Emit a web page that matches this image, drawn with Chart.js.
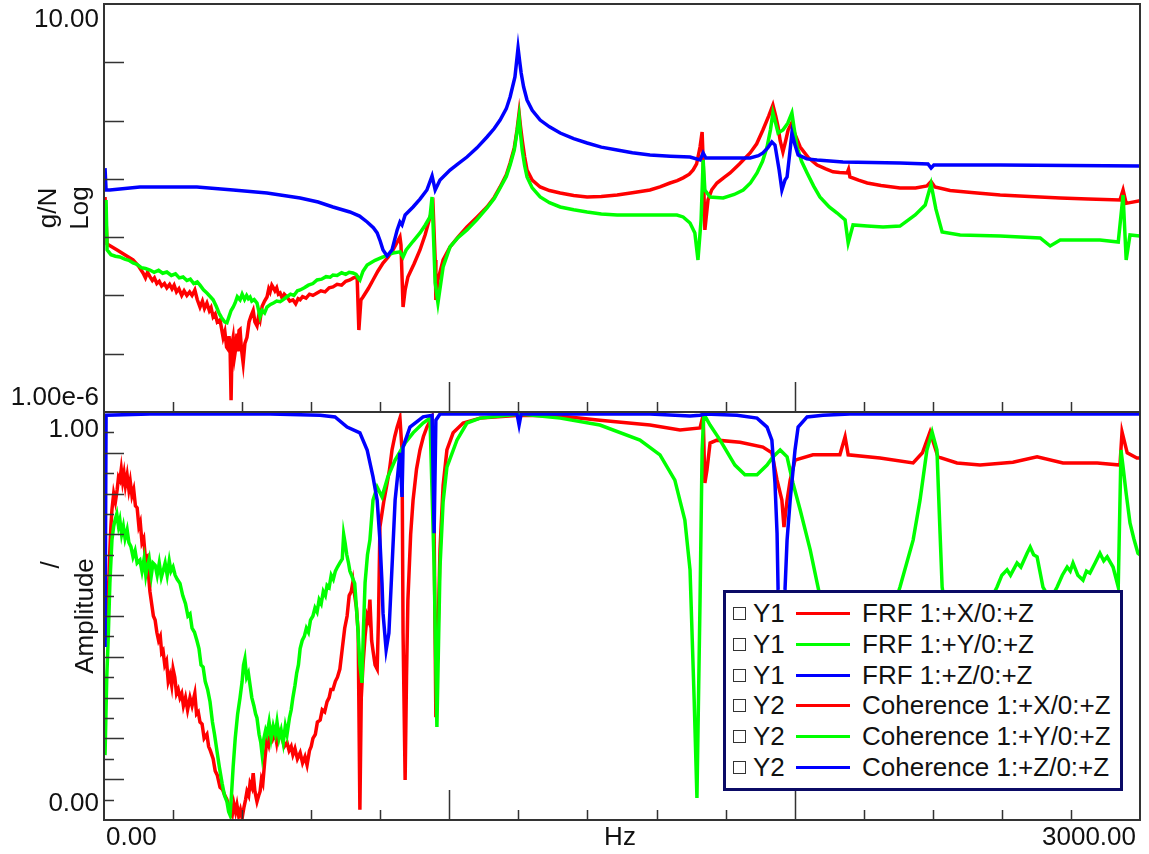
<!DOCTYPE html>
<html>
<head>
<meta charset="utf-8">
<script src="https://cdn.jsdelivr.net/npm/chart.js@4.4.0/dist/chart.umd.min.js"></script>
<style>
  html, body { margin: 0; padding: 0; background: #fff; }
  #wrap { position: relative; width: 1149px; height: 854px; }
  #legend {
    position: absolute; left: 723px; top: 590px; width: 394px; height: 195px;
    border: 3px solid #0b0b66; background: #fff;
    font-family: "Liberation Sans", Arial, sans-serif; font-size: 26px; color: #111;
  }
  .row { position: absolute; left: 0; height: 31px; width: 390px; white-space: nowrap; }
  .chk { position: absolute; left: 7px; top: 9px; width: 11px; height: 11px; border: 1.5px solid #333; }
  .ax { position: absolute; left: 27px; top: 0; line-height: 31px; }
  .ln { position: absolute; left: 70px; top: 14px; width: 54px; height: 3px; }
  .lb { position: absolute; left: 136px; top: 0; line-height: 31px; }
</style>
</head>
<body>
<div id="wrap">
  <canvas id="chart" width="1149" height="854"></canvas>
  <div id="legend"></div>
</div>
<script>
// frequency (Hz), value pairs
const frfX = [[3,4.89e-3],[9,7.6e-4],[38,6.03e-4],[60,5.0e-4],[84,4.06e-4],[100,3.2e-4],[113,2.43e-4],[120,2.0e-4],[126,2.5e-4],[133,2.1e-4],[140,1.8e-4],[146,2.0e-4],[153,1.6e-4],[160,1.75e-4],[167,1.45e-4],[175,1.6e-4],[182,1.35e-4],[190,1.55e-4],[197,1.3e-4],[203,1.5e-4],[210,1.15e-4],[217,1.3e-4],[225,1.0e-4],[232,1.2e-4],[240,1.0e-4],[248,1.15e-4],[255,1.0e-4],[263,1.24e-4],[270,8.5e-5],[278,6.3e-5],[285,8.0e-5],[291,6.0e-5],[298,7.4e-5],[305,5.5e-5],[310,6.2e-5],[316,4.3e-5],[322,4.8e-5],[328,3.5e-5],[336,3.8e-5],[340,2.8e-5],[345,1.9e-5],[350,2.4e-5],[355,1.3e-5],[359,1.2e-5],[362,2.0e-5],[365,1.35e-5],[368,1.6e-6],[371,1.5e-5],[374,1.9e-5],[378,9e-6],[382,1.3e-5],[385,2.2e-5],[388,1.1e-5],[391,2.5e-5],[394,2.6e-5],[398,1.2e-5],[403,6.9e-6],[408,1.5e-5],[414,1.9e-5],[420,3.5e-5],[426,4.5e-5],[432,5.5e-5],[437,3.5e-5],[443,3.0e-5],[448,4.5e-5],[452,3.8e-5],[458,6.5e-5],[465,8.0e-5],[472,9.4e-5],[477,1.3e-4],[481,1.15e-4],[486,1.5e-4],[489,1.4e-4],[495,1.2e-4],[500,1.35e-4],[505,1.05e-4],[510,1.1e-4],[516,9.0e-5],[522,1.05e-4],[530,9.4e-5],[538,8.0e-5],[547,8.4e-5],[555,7.2e-5],[562,8.8e-5],[568,8.4e-5],[575,9.5e-5],[585,9.0e-5],[595,1.05e-4],[605,1.0e-4],[617,1.1e-4],[628,1.2e-4],[640,1.15e-4],[652,1.35e-4],[663,1.4e-4],[675,1.55e-4],[688,1.5e-4],[700,1.75e-4],[712,1.84e-4],[722,2.0e-4],[733,2.07e-4],[738,2.55e-5],[744,8.36e-5],[750,9.4e-5],[765,1.3e-4],[779,1.84e-4],[793,2.6e-4],[808,3.6e-4],[822,4.5e-4],[837,6.03e-4],[857,1.01e-3],[860,7.34e-4],[866,6.34e-5],[872,1.24e-4],[880,2.07e-4],[898,3.5e-4],[915,6.03e-4],[930,1.1e-3],[944,2.22e-3],[953,3.29e-3],[959,4.06e-4],[961,8.36e-5],[967,1.84e-4],[982,4.06e-4],[1002,6.78e-4],[1025,1.0e-3],[1051,1.49e-3],[1080,2.2e-3],[1109,3.29e-3],[1130,4.8e-3],[1147,7.26e-3],[1165,0.0118],[1176,0.0187],[1188,0.034],[1196,0.0689],[1202,0.135],[1206,0.08],[1211,0.0464],[1218,0.024],[1225,0.0142],[1240,0.0095],[1263,7.26e-3],[1290,6.3e-3],[1321,5.73e-3],[1360,5.2e-3],[1399,4.89e-3],[1440,5.0e-3],[1486,5.29e-3],[1530,5.8e-3],[1581,6.44e-3],[1610,7.3e-3],[1639,8.49e-3],[1660,9.3e-3],[1677,0.0104],[1695,0.012],[1706,0.0142],[1716,0.018],[1726,0.0352],[1732,0.0637],[1735,0.0211],[1740,1.33e-3],[1749,4.34e-3],[1760,6.5e-3],[1775,8.49e-3],[1795,0.0105],[1813,0.0126],[1840,0.018],[1871,0.0278],[1890,0.04],[1908,0.0689],[1925,0.12],[1937,0.185],[1945,0.12],[1952,0.0776],[1958,0.045],[1966,0.0289],[1974,0.045],[1981,0.0689],[1992,0.093],[2000,0.06],[2016,0.0352],[2040,0.023],[2065,0.0173],[2090,0.0148],[2111,0.0132],[2130,0.0128],[2152,0.0126],[2156,0.0145],[2160,0.0108],[2185,0.0095],[2210,8.49e-3],[2250,7.7e-3],[2305,6.97e-3],[2350,7.0e-3],[2383,7.55e-3],[2395,9.0e-3],[2406,7.26e-3],[2450,6.3e-3],[2520,5.8e-3],[2595,5.29e-3],[2680,5.0e-3],[2769,4.7e-3],[2850,4.5e-3],[2942,4.34e-3],[2951,6.44e-3],[2960,3.8e-3],[3000,4.2e-3]];

const frfY = [[6,4.34e-3],[9,6.03e-4],[20,5.0e-4],[33,4.7e-4],[46,4.57e-4],[60,4.2e-4],[72,4.0e-4],[84,3.6e-4],[96,3.4e-4],[108,3.0e-4],[120,2.9e-4],[133,2.73e-4],[145,2.5e-4],[158,2.7e-4],[170,2.4e-4],[182,2.52e-4],[195,2.2e-4],[207,2.35e-4],[218,2.0e-4],[229,2.07e-4],[240,1.8e-4],[250,1.9e-4],[260,1.6e-4],[270,1.7e-4],[278,1.5e-4],[288,1.25e-4],[298,1.1e-4],[308,9.5e-5],[316,8.4e-5],[325,6.5e-5],[333,5.0e-5],[340,4.2e-5],[345,3.8e-5],[350,3.5e-5],[356,3.4e-5],[363,4.5e-5],[368,5.5e-5],[374,6.3e-5],[380,7.5e-5],[386,9.5e-5],[394,8.4e-5],[400,1.05e-4],[407,8.5e-5],[413,1.0e-4],[418,8.8e-5],[423,9.4e-5],[428,8.0e-5],[435,8.5e-5],[443,7.4e-5],[448,5.5e-5],[452,4.3e-5],[458,5.5e-5],[465,5.0e-5],[472,6.3e-5],[482,7.0e-5],[492,7.5e-5],[500,8.0e-5],[510,7.8e-5],[518,8.4e-5],[530,9.5e-5],[540,1.05e-4],[550,1.0e-4],[560,1.2e-4],[568,1.24e-4],[580,1.35e-4],[592,1.5e-4],[605,1.6e-4],[617,1.84e-4],[630,1.9e-4],[643,2.1e-4],[655,2.05e-4],[663,2.24e-4],[675,2.2e-4],[688,2.45e-4],[700,2.3e-4],[710,2.5e-4],[721,2.43e-4],[730,2.3e-4],[736,2.0e-4],[741,1.84e-4],[750,2.6e-4],[762,3.33e-4],[785,4.0e-4],[808,4.57e-4],[822,5.0e-4],[837,5.35e-4],[857,5.6e-4],[866,4.57e-4],[875,6.03e-4],[895,8.5e-4],[915,1.18e-3],[930,1.6e-3],[944,2.22e-3],[950,4.89e-3],[959,1.64e-4],[967,7.42e-5],[982,3.08e-4],[1002,6.78e-4],[1025,9.8e-4],[1051,1.33e-3],[1080,2.0e-3],[1109,3.16e-3],[1130,4.6e-3],[1147,6.97e-3],[1165,0.011],[1176,0.0173],[1188,0.031],[1196,0.0637],[1202,0.115],[1206,0.06],[1211,0.0313],[1218,0.017],[1225,0.0108],[1240,7.0e-3],[1263,4.89e-3],[1290,3.9e-3],[1321,3.29e-3],[1360,2.95e-3],[1399,2.7e-3],[1440,2.5e-3],[1486,2.4e-3],[1581,2.4e-3],[1659,2.4e-3],[1677,2.22e-3],[1697,1.75e-3],[1711,1.18e-3],[1720,4.06e-4],[1729,1.97e-3],[1735,0.0211],[1740,6.44e-3],[1755,4.89e-3],[1793,4.7e-3],[1825,5.4e-3],[1851,6.44e-3],[1872,8.5e-3],[1891,0.0126],[1907,0.02],[1920,0.0352],[1930,0.07],[1937,0.135],[1945,0.09],[1952,0.0612],[1966,0.0689],[1980,0.09],[1992,0.135],[1999,0.07],[2007,0.0352],[2020,0.02],[2036,0.0126],[2055,7.5e-3],[2073,4.89e-3],[2100,3.3e-3],[2123,2.59e-3],[2146,1.97e-3],[2155,7.94e-4],[2169,1.62e-3],[2210,1.55e-3],[2256,1.49e-3],[2305,1.55e-3],[2349,2.4e-3],[2378,3.56e-3],[2395,8.1e-3],[2409,3.02e-3],[2427,1.23e-3],[2479,1.09e-3],[2595,1.05e-3],[2711,9.7e-4],[2740,7.05e-4],[2769,8.93e-4],[2884,8.93e-4],[2937,8.26e-4],[2951,5.29e-3],[2960,4.06e-4],[2971,1.09e-3],[3000,1.05e-3]];

const frfZ = [[3,0.0153],[6,6.44e-3],[17,6.44e-3],[46,6.7e-3],[104,7.26e-3],[269,7.26e-3],[374,6.44e-3],[472,5.73e-3],[568,4.7e-3],[620,4.0e-3],[663,3.29e-3],[712,2.7e-3],[740,2.3e-3],[762,1.82e-3],[780,1.45e-3],[791,1.18e-3],[800,8.5e-4],[808,6.03e-4],[820,4.75e-4],[834,6.03e-4],[849,1.33e-3],[857,1.82e-3],[863,1.62e-3],[872,2.4e-3],[895,3.29e-3],[915,4.5e-3],[935,6.44e-3],[950,0.0112],[959,6.44e-3],[973,9.57e-3],[1002,0.0142],[1025,0.018],[1051,0.0237],[1080,0.034],[1109,0.0523],[1130,0.073],[1147,0.102],[1165,0.16],[1176,0.254],[1190,0.56],[1199,1.76],[1204,1.0],[1208,0.655],[1215,0.38],[1225,0.225],[1240,0.15],[1263,0.102],[1290,0.078],[1321,0.0612],[1360,0.049],[1399,0.0412],[1440,0.035],[1486,0.0313],[1530,0.028],[1581,0.0257],[1640,0.0245],[1697,0.0237],[1726,0.0211],[1735,0.0278],[1743,0.0228],[1775,0.0228],[1871,0.0228],[1895,0.025],[1908,0.0278],[1922,0.034],[1934,0.0429],[1943,0.0381],[1955,0.0142],[1963,6.44e-3],[1972,9.57e-3],[1978,0.0108],[1985,0.025],[1992,0.0612],[2001,0.0381],[2010,0.0257],[2035,0.022],[2065,0.0211],[2140,0.0195],[2305,0.0187],[2386,0.018],[2395,0.0153],[2403,0.0173],[2595,0.0173],[3000,0.0166]];

const cohX = [[6,0.441],[12,0.539],[17,0.662],[20,0.72],[23,0.76],[28,0.8],[33,0.78],[38,0.809],[42,0.84],[46,0.833],[50,0.86],[54,0.83],[58,0.85],[62,0.82],[67,0.845],[72,0.81],[76,0.83],[81,0.795],[86,0.81],[91,0.77],[96,0.765],[101,0.72],[105,0.73],[110,0.68],[115,0.69],[120,0.64],[125,0.645],[129,0.6],[133,0.56],[138,0.53],[143,0.5],[148,0.49],[153,0.46],[158,0.44],[163,0.45],[167,0.41],[171,0.415],[176,0.38],[181,0.39],[186,0.34],[191,0.355],[196,0.33],[200,0.37],[205,0.35],[210,0.31],[215,0.32],[220,0.3],[225,0.31],[230,0.28],[236,0.3],[242,0.27],[249,0.3],[255,0.28],[263,0.31],[268,0.26],[273,0.265],[278,0.24],[284,0.235],[290,0.2],[298,0.21],[303,0.18],[308,0.17],[316,0.15],[322,0.12],[328,0.11],[336,0.08],[343,0.075],[350,0.06],[356,0.05],[362,0.03],[366,0.015],[371,0.01],[376,0.04],[381,0.02],[385,0.037],[390,0.01],[395,0.025],[400,0.005],[405,0.03],[410,0.05],[414,0.07],[419,0.06],[423,0.09],[428,0.08],[432,0.115],[437,0.07],[443,0.045],[448,0.06],[452,0.07],[456,0.1],[460,0.09],[466,0.15],[472,0.2],[477,0.185],[483,0.22],[489,0.2],[495,0.215],[500,0.19],[505,0.22],[510,0.205],[516,0.2],[522,0.18],[530,0.19],[536,0.17],[542,0.18],[547,0.16],[553,0.175],[560,0.15],[568,0.165],[575,0.14],[582,0.155],[588,0.135],[595,0.17],[600,0.18],[605,0.2],[612,0.21],[618,0.24],[626,0.245],[632,0.27],[639,0.265],[646,0.29],[652,0.3],[657,0.32],[663,0.32],[670,0.34],[676,0.35],[683,0.37],[690,0.42],[697,0.47],[704,0.5],[710,0.55],[716,0.56],[721,0.585],[726,0.55],[731,0.52],[736,0.46],[741,0.025],[745,0.3],[750,0.38],[756,0.45],[762,0.5],[766,0.49],[770,0.54],[775,0.44],[779,0.415],[785,0.38],[791,0.37],[795,0.5],[799,0.718],[810,0.78],[820,0.826],[827,0.86],[834,0.907],[842,0.94],[849,0.963],[857,0.985],[863,0.907],[866,0.458],[872,0.098],[876,0.35],[880,0.539],[888,0.7],[895,0.784],[905,0.86],[915,0.907],[925,0.94],[935,0.963],[950,0.988],[956,0.703],[961,0.252],[967,0.45],[973,0.662],[982,0.82],[993,0.907],[1011,0.949],[1040,0.973],[1089,0.985],[1205,0.992],[1321,0.99],[1436,0.98],[1581,0.968],[1668,0.956],[1726,0.961],[1735,0.992],[1740,0.826],[1746,0.858],[1755,0.924],[1775,0.931],[1842,0.926],[1908,0.914],[1934,0.9],[1949,0.833],[1963,0.784],[1969,0.718],[1978,0.784],[1987,0.833],[2001,0.882],[2053,0.895],[2131,0.895],[2146,0.939],[2155,0.895],[2247,0.887],[2343,0.875],[2370,0.9],[2392,0.951],[2415,0.89],[2470,0.875],[2537,0.87],[2632,0.877],[2702,0.89],[2777,0.875],[2876,0.875],[2942,0.87],[2948,0.951],[2963,0.9],[2991,0.887],[3000,0.887]];

const cohY = [[3,0.159],[8,0.35],[12,0.441],[17,0.58],[23,0.686],[28,0.72],[32,0.735],[37,0.75],[42,0.72],[46,0.735],[51,0.7],[56,0.72],[61,0.69],[67,0.711],[72,0.68],[78,0.67],[84,0.645],[90,0.66],[96,0.63],[104,0.637],[110,0.61],[116,0.64],[121,0.6],[125,0.62],[131,0.64],[137,0.6],[142,0.63],[148,0.625],[154,0.6],[160,0.63],[166,0.595],[171,0.61],[177,0.63],[183,0.6],[189,0.635],[194,0.61],[200,0.62],[206,0.6],[212,0.59],[220,0.58],[228,0.55],[236,0.53],[243,0.5],[249,0.505],[255,0.47],[262,0.46],[269,0.44],[275,0.42],[281,0.38],[287,0.375],[293,0.34],[300,0.32],[307,0.29],[314,0.24],[320,0.21],[327,0.17],[334,0.13],[342,0.09],[349,0.06],[356,0.045],[361,0.02],[365,0.012],[369,0.06],[374,0.13],[380,0.2],[387,0.26],[394,0.3],[400,0.34],[404,0.38],[408,0.395],[413,0.35],[418,0.36],[423,0.33],[428,0.3],[434,0.28],[439,0.26],[443,0.25],[449,0.21],[454,0.19],[458,0.16],[463,0.2],[468,0.22],[472,0.21],[478,0.24],[484,0.2],[490,0.23],[496,0.21],[501,0.24],[507,0.2],[513,0.22],[519,0.19],[525,0.23],[530,0.21],[537,0.25],[542,0.27],[547,0.3],[553,0.33],[558,0.36],[563,0.38],[568,0.42],[574,0.44],[580,0.45],[586,0.47],[592,0.46],[598,0.49],[605,0.5],[611,0.52],[617,0.51],[623,0.54],[629,0.53],[635,0.56],[641,0.55],[646,0.575],[652,0.57],[658,0.6],[664,0.59],[670,0.61],[676,0.62],[683,0.63],[690,0.64],[694,0.7],[698,0.68],[703,0.65],[708,0.63],[712,0.61],[717,0.6],[721,0.59],[726,0.58],[731,0.52],[736,0.458],[741,0.38],[747,0.336],[751,0.46],[756,0.581],[763,0.65],[770,0.686],[779,0.784],[791,0.816],[805,0.792],[822,0.841],[843,0.882],[872,0.924],[895,0.949],[924,0.973],[944,0.985],[956,0.62],[964,0.228],[973,0.62],[982,0.78],[993,0.865],[1022,0.931],[1051,0.973],[1089,0.985],[1205,0.995],[1321,0.985],[1436,0.968],[1552,0.931],[1610,0.895],[1653,0.833],[1682,0.735],[1697,0.613],[1709,0.294],[1717,0.054],[1726,0.539],[1732,0.907],[1737,0.995],[1755,0.968],[1784,0.931],[1827,0.87],[1856,0.846],[1891,0.846],[1920,0.87],[1937,0.89],[1958,0.907],[1978,0.89],[1995,0.826],[2016,0.76],[2045,0.662],[2065,0.581],[2088,0.49],[2160,0.343],[2247,0.417],[2305,0.571],[2343,0.686],[2363,0.784],[2383,0.907],[2398,0.951],[2412,0.907],[2421,0.703],[2427,0.571],[2450,0.44],[2537,0.49],[2586,0.571],[2600,0.6],[2615,0.613],[2625,0.6],[2644,0.63],[2655,0.62],[2673,0.654],[2682,0.669],[2692,0.65],[2702,0.645],[2710,0.61],[2719,0.571],[2740,0.54],[2760,0.571],[2775,0.6],[2789,0.62],[2798,0.61],[2806,0.63],[2820,0.6],[2835,0.588],[2845,0.61],[2855,0.605],[2870,0.63],[2884,0.654],[2895,0.635],[2905,0.645],[2915,0.63],[2922,0.62],[2937,0.571],[2945,0.907],[2951,0.865],[2960,0.8],[2971,0.728],[2982,0.69],[2994,0.654],[3000,0.65]];

const cohZ = [[3,0.424],[6,0.992],[133,0.995],[481,0.995],[626,0.992],[669,0.988],[704,0.963],[741,0.949],[762,0.907],[779,0.841],[791,0.784],[799,0.686],[805,0.581],[808,0.507],[817,0.417],[825,0.458],[834,0.62],[843,0.784],[851,0.85],[857,0.9],[863,0.792],[866,0.914],[886,0.963],[924,0.988],[950,0.992],[956,0.703],[961,0.98],[973,0.995],[1196,0.995],[1202,0.968],[1208,0.995],[1581,0.995],[1697,0.99],[1726,0.992],[1740,0.995],[1833,0.992],[1891,0.985],[1920,0.963],[1934,0.931],[1943,0.826],[1949,0.703],[1952,0.564],[1961,0.45],[1972,0.564],[1978,0.686],[1987,0.784],[2001,0.907],[2010,0.963],[2036,0.988],[2082,0.992],[2160,0.995],[3000,0.995]];

const seriesNames = ['FRF 1:+X/0:+Z', 'FRF 1:+Y/0:+Z', 'FRF 1:+Z/0:+Z',
                     'Coherence 1:+X/0:+Z', 'Coherence 1:+Y/0:+Z', 'Coherence 1:+Z/0:+Z'];
const seriesAxis = ['Y1', 'Y1', 'Y1', 'Y2', 'Y2', 'Y2'];
const colors = ['#ff0000', '#00ff00', '#0000ff', '#ff0000', '#00ff00', '#0000ff'];

// tick values and labels
const xMinorTicks = [200, 400, 600, 800, 1200, 1400, 1600, 1800, 2200, 2400, 2600, 2800];
const xMajorTicks = [1000, 2000];
const xLabels = ['0.00', 'Hz', '3000.00'];
const logTicks = [1e-5, 1e-4, 1e-3, 1e-2, 1e-1, 1];
const cohTicks = [0.05, 0.1, 0.15, 0.2, 0.25, 0.3, 0.35, 0.4, 0.45, 0.5, 0.55, 0.6, 0.65, 0.7, 0.75, 0.8, 0.85, 0.9, 0.95];
const topLabels = ['10.00', '1.00e-6'];
const botLabels = ['1.00', '0.00'];
const topTitle = ['g/N', 'Log'];
const botTitle = ['/', 'Amplitude'];

const FONT = '26px "Liberation Sans", Arial, sans-serif';

const allData = [frfX, frfY, frfZ, cohX, cohY, cohZ];
const datasets = allData.map((d, i) => ({
    label: seriesNames[i],
    data: d.map(p => ({ x: p[0], y: p[1] })),
    borderColor: colors[i],
    backgroundColor: colors[i],
    yAxisID: i < 3 ? 'yTop' : 'yBot',
    order: 3 - (i % 3),
}));

// frame, inside ticks and labels
const axisChrome = {
    id: 'axisChrome',
    afterDatasetsDraw(chart) {
        const { ctx, chartArea: a, scales } = chart;
        const x = scales.x, yT = scales.yTop, yB = scales.yBot;
        ctx.save();
        ctx.strokeStyle = '#333';
        ctx.lineWidth = 2;
        ctx.strokeRect(a.left, a.top, a.right - a.left, a.bottom - a.top);
        ctx.beginPath();
        ctx.moveTo(a.left, yT.bottom);
        ctx.lineTo(a.right, yT.bottom);
        ctx.stroke();

        ctx.lineWidth = 1.5;
        ctx.beginPath();
        logTicks.forEach(v => {
            const py = Math.round(yT.getPixelForValue(v)) + 0.5;
            ctx.moveTo(a.left, py); ctx.lineTo(a.left + 20, py);
        });
        cohTicks.forEach((v, i) => {
            const py = Math.round(yB.getPixelForValue(v)) + 0.5;
            ctx.moveTo(a.left, py); ctx.lineTo(a.left + (i % 2 === 1 ? 20 : 10), py);
        });
        [yT.bottom, yB.bottom].forEach(base => {
            xMinorTicks.forEach(v => {
                const px = Math.round(x.getPixelForValue(v)) + 0.5;
                ctx.moveTo(px, base); ctx.lineTo(px, base - 10);
            });
            xMajorTicks.forEach(v => {
                const px = Math.round(x.getPixelForValue(v)) + 0.5;
                ctx.moveTo(px, base); ctx.lineTo(px, base - 30);
            });
        });
        ctx.stroke();

        ctx.fillStyle = '#111';
        ctx.font = FONT;
        ctx.textBaseline = 'middle';
        ctx.textAlign = 'right';
        ctx.fillText(topLabels[0], a.left - 5, yT.top + 16);
        ctx.fillText(topLabels[1], a.left - 5, yT.bottom - 14);
        ctx.fillText(botLabels[0], a.left - 5, yB.top + 18);
        ctx.fillText(botLabels[1], a.left - 5, yB.bottom - 16);

        const ly = a.bottom + 18;
        ctx.textAlign = 'left';
        ctx.fillText(xLabels[0], a.left + 2, ly);
        ctx.textAlign = 'center';
        ctx.fillText(xLabels[1], (a.left + a.right) / 2 - 2, ly);
        ctx.textAlign = 'right';
        ctx.fillText(xLabels[2], a.right - 4, ly);

        const title = (lines, cy, xs) => {
            lines.forEach((t, i) => {
                ctx.save();
                ctx.translate(xs[i], cy);
                ctx.rotate(-Math.PI / 2);
                ctx.textAlign = 'center';
                ctx.fillText(t, 0, 0);
                ctx.restore();
            });
        };
        title(topTitle, (yT.top + yT.bottom) / 2, [49, 81]);
        title([botTitle[1]], (yB.top + yB.bottom) / 2, [86]);
        title([botTitle[0]], yB.top + 153, [52]);
        ctx.restore();
    }
};

new Chart(document.getElementById('chart'), {
    type: 'line',
    data: { datasets },
    options: {
        responsive: false,
        animation: false,
        devicePixelRatio: 1,
        layout: { padding: { left: 104, top: 4, right: 9, bottom: 34 } },
        plugins: { legend: { display: false }, tooltip: { enabled: false } },
        elements: { point: { radius: 0 }, line: { borderWidth: 3.5, tension: 0 } },
        scales: {
            x: { type: 'linear', min: 0, max: 3000, display: false },
            yTop: { type: 'logarithmic', min: 1e-6, max: 10, display: false, position: 'left', stack: 'panels', stackWeight: 1, weight: 2 },
            yBot: { type: 'linear', min: 0, max: 1, display: false, position: 'left', stack: 'panels', stackWeight: 1, weight: 1 },
        },
    },
    plugins: [axisChrome],
});

// legend box
const legend = document.getElementById('legend');
seriesNames.forEach((name, i) => {
    const row = document.createElement('div');
    row.className = 'row';
    row.style.top = (5 + i * 30.8) + 'px';
    row.innerHTML = '<span class="chk"></span><span class="ax">' + seriesAxis[i] + '</span>' +
        '<span class="ln" style="background:' + colors[i] + '"></span><span class="lb">' + name + '</span>';
    legend.appendChild(row);
});
</script>
</body>
</html>
